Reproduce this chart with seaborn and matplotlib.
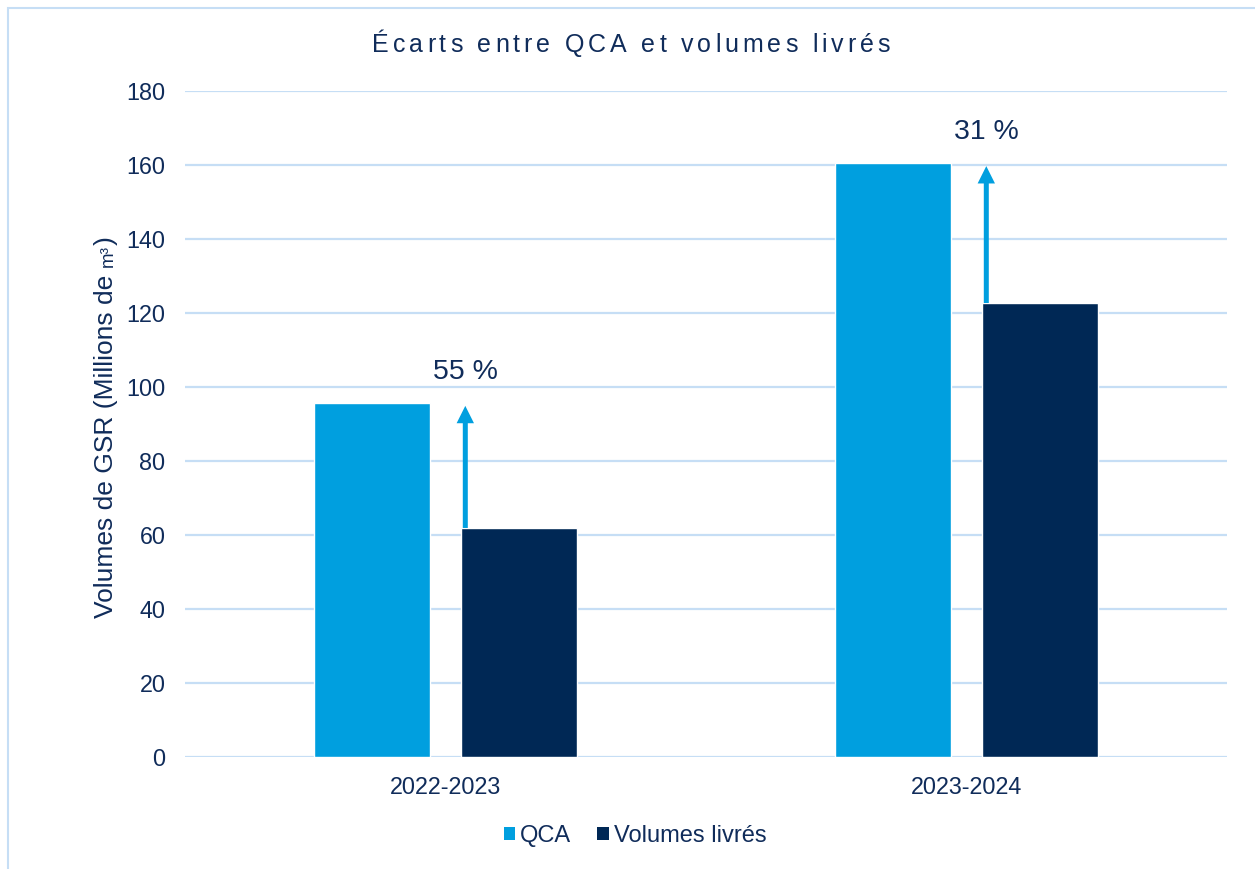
import matplotlib
matplotlib.use("Agg")
import matplotlib.pyplot as plt
import seaborn as sns
import pandas as pd
from matplotlib.patches import Rectangle, Patch

# Data
categories = ["2022-2023", "2023-2024"]
qca = [95.7, 160.5]
volumes = [61.9, 122.7]
series_names = ["QCA", "Volumes livrés"]
pct_labels = ["55 %", "31 %"]
title = "Écarts entre QCA et volumes livrés"
ylabel_parts = ["Volumes de GSR (Millions de ", "m³", ")"]

colors = ["#009FDF", "#002855"]
text_color = "#102C5A"
grid_color = "#C6DEF5"

sns.set_theme(style="white")
plt.rcParams["font.family"] = ["Liberation Sans", "DejaVu Sans"]

df = pd.DataFrame({
    "Période": categories * 2,
    "Série": [series_names[0]] * 2 + [series_names[1]] * 2,
    "Valeur": qca + volumes,
})

W, H = 1255, 869
fig = plt.figure(figsize=(W / 100, H / 100), dpi=100)
ax = fig.add_axes([185 / W, (H - 757) / H, (1227 - 185) / W, (757 - 91) / H])

sns.barplot(data=df, x="Période", y="Valeur", hue="Série", palette=colors,
            width=0.568, gap=0.216, saturation=1, errorbar=None, ax=ax,
            legend=False, zorder=3)

ax.set_ylim(0, 180)
ax.set_xlim(-0.5, 1.5)
ax.set_yticks(range(0, 181, 20))
ax.yaxis.grid(True, color=grid_color, linewidth=1.6, zorder=0)
ax.set_axisbelow(True)
for s in ax.spines.values():
    s.set_visible(False)
ax.tick_params(axis="both", length=0, colors=text_color, labelsize=16.8)
ax.tick_params(axis="y", pad=14)
ax.tick_params(axis="x", pad=14)
ax.set_xlabel("")
ax.set_ylabel("")

# Arrows and percent labels
for i in range(len(categories)):
    xa = i + 0.038
    ax.annotate("", xy=(xa, qca[i] - 0.8), xytext=(xa, volumes[i]),
                arrowprops=dict(width=3.6, headwidth=12.5, headlength=12.5,
                                shrink=0, color=colors[0], lw=0),
                zorder=4)
    ax.text(xa, qca[i] + 8.4, pct_labels[i], ha="center", va="center",
            fontsize=20.5, color=text_color)

fig.canvas.draw()
renderer = fig.canvas.get_renderer()


def text_width(s, size):
    t = fig.text(0, 0, s, fontsize=size)
    w = t.get_window_extent(renderer).width
    t.remove()
    return w


# Title with letter spacing
tsize = 18
space_w = 0.278 * tsize * 100 / 72
widths = [space_w if c == " " else text_width(c, tsize) for c in title]
target = 890 - 372
spacing = (target - sum(widths)) / (len(title) - 1)
x = 631 - target / 2
for c, w in zip(title, widths):
    if c != " ":
        fig.text(x / W, 1 - 45 / H, c, fontsize=tsize, color=text_color,
                 ha="left", va="center")
    x += w + spacing

# Y label with smaller unit
sizes = [19, 13.5, 19]
y = 618
for part, sz in zip(ylabel_parts, sizes):
    fig.text(113 / W, 1 - y / H, part, fontsize=sz, color=text_color,
             rotation=90, rotation_mode="anchor", ha="left", va="baseline")
    y -= text_width(part.rstrip(), sz) + (0.278 * sz * 100 / 72 if part.endswith(" ") else 0)

# Legend
handles = [Patch(facecolor=c, edgecolor="none") for c in colors]
fig.legend(handles, series_names, loc="center", bbox_to_anchor=(0.506, 1 - 836 / H),
           ncol=2, frameon=False, fontsize=17, handlelength=0.5, handleheight=0.5,
           handletextpad=0.2, columnspacing=1.1, labelcolor=text_color)

# Border
fig.patches.append(Rectangle((8 / W, -0.05), 1.2, (H - 8) / H + 0.05,
                             transform=fig.transFigure, fill=False,
                             edgecolor=grid_color, linewidth=1.5))

fig.savefig("out.png", dpi=100)
